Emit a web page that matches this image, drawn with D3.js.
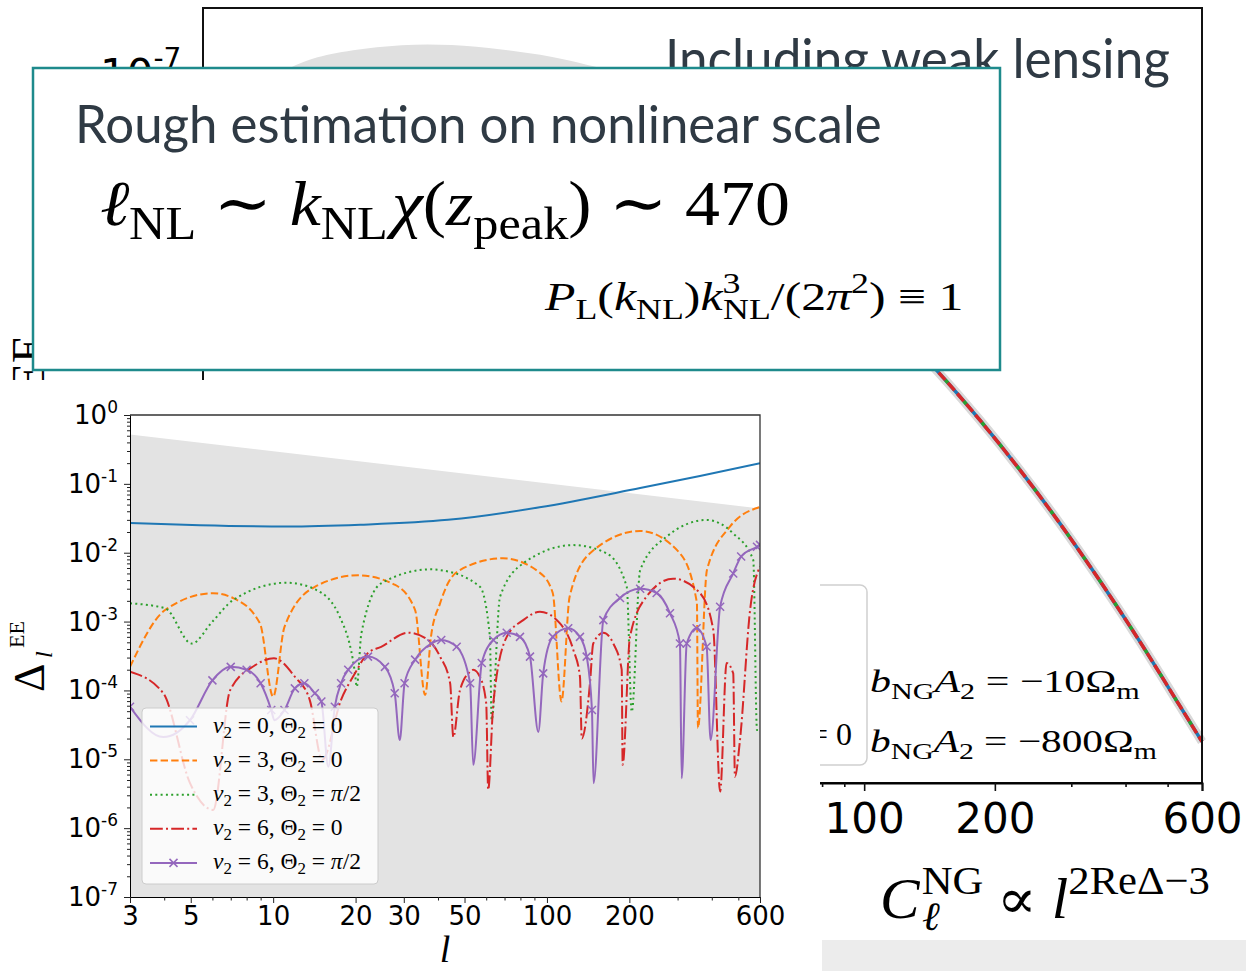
<!DOCTYPE html>
<html>
<head>
<meta charset="utf-8">
<script src="https://cdn.jsdelivr.net/npm/d3@7"></script>
<style>
body { margin: 0; background: #fff; }
svg { display: block; }
</style>
</head>
<body>
<svg id="canvas" width="1246" height="971"></svg>
<script>

//****************************************************************************************************************************//
// Data

// background chart : C_l^EE including weak lensing
var bgBandTop = [[4.7,1.1e-7],[5.3,1.32e-7],[6.6,1.51e-7],[8.6,1.66e-7],[11.2,1.66e-7],[14.6,1.53e-7],[19,1.37e-7],[24.7,1.12e-7]];
var bgCurve = [[121,1.46e-9],[148,7.57e-10],[184.8,3.42e-10],[228.4,1.51e-10],[282.2,6.28e-11],[348.7,2.45e-11],[430.9,9.04e-12],[532.6,3.14e-12],[600,1.73e-12]];
var bgMajorTicks = [3,5,10,20,30,50,100,200,600];

// inset : Delta_l^EE
var grayUpper = [[3,0.52],[30,0.178],[600,0.044]];

var nu0theta0 = [[3,0.027],[5.4,0.025],[11.3,0.024],[20.8,0.0255],[43.5,0.030],[94,0.0457],[219,0.087],[362,0.13],[600,0.2]];

var nu3theta0 = [[3,2.2e-4],[4.03,1.47e-3],[6.03,2.58e-3],[7.13,2.2e-3],[8.95,9.4e-4],[10,8.1e-5],[11,8.4e-4],[14.2,3.2e-3],
	[20.4,4.7e-3],[27.9,3.4e-3],[33,1.47e-3],[35.9,8.6e-5],[37.7,6e-4],[40.7,1.84e-3],[43.5,3.6e-3],[48.1,5.6e-3],[69,8.3e-3],
	[94.3,5.1e-3],[105,2.6e-3],[113,6.9e-5],[121,2.3e-3],[144,9.9e-3],[219,0.0207],[306,9.8e-3],[353,1.86e-3],[356,2.85e-5],
	[384,5.6e-3],[466,0.0239],[600,0.046]];

var nu3thetaPi2 = [[3,1.84e-3],[4.03,1.56e-3],[5.04,4.8e-4],[6,1.0e-3],[7.15,2.06e-3],[11.2,3.67e-3],[14.4,2.87e-3],[17.5,1.18e-3],
	[19.9,1.77e-4],[20.2,1.13e-4],[21,6.76e-4],[24.8,3.6e-3],[37.8,5.74e-3],[40.7,5.6e-3],[56.9,3.2e-3],[61.9,6.0e-4],[62.8,3.7e-5],
	[67.4,2.3e-3],[81.9,7.0e-3],[124.8,0.0129],[165,9.8e-3],[195.6,3.2e-3],[204,4.9e-5],[219,5.6e-3],[273.6,0.0171],[383,0.0299],
	[479,0.0191],[567,7.8e-3],[585,2.66e-5],[592,2.66e-5]];

var nu6theta0 = [[3,1.87e-4],[3.97,9.1e-5],[4.97,4.5e-6],[6.04,1.84e-6],[6.96,1.0e-4],[8.56,2.3e-4],[10.07,2.93e-4],[12,1.58e-4],
	[13.6,7.3e-5],[15.1,9.8e-6],[17.7,7.3e-5],[19.9,1.77e-4],[22.2,3.5e-4],[24.8,4.3e-4],[31.1,6.9e-4],[36.8,5.4e-4],[40.7,3.1e-4],
	[44.3,1.27e-4],[45.5,2.1e-5],[48.1,1.0e-4],[52.4,1.87e-4],[53.8,2.0e-4],[56.9,1.58e-4],[60,6.5e-5],[61,3.6e-6],[63.7,6.5e-5],
	[71.3,6.0e-4],[81.9,1.05e-3],[94.3,1.39e-3],[111.6,9.4e-4],[124.8,3.9e-4],[132,1.58e-4],[134,2.0e-5],[143.6,1.27e-4],
	[147.6,4.8e-4],[160.7,6.9e-4],[174.7,4.8e-4],[187.5,2.0e-4],[189,8.3e-6],[201,6.0e-4],[231,2.3e-3],[289,4.2e-3],[362,2.6e-3],
	[405,7.6e-4],[429,3.4e-6],[453,2.5e-4],[479,1.77e-4],[486,5.6e-6],[507,1.9e-5],[552,1.47e-3],[600,6.3e-3]];

var nu6thetaPi2 = [[3,5.8e-5],[3.97,2.1e-5],[4.97,3.7e-5],[6,1.4e-4],[7,2.2e-4],[8,2.0e-4],[9,1.27e-4],[9.84,5.2e-5],[10.1,3.7e-5],
	[11,5.2e-5],[12,1.07e-4],[13,1.27e-4],[14.2,9.1e-5],[15,6.9e-5],[15.9,7.8e-6],[16.8,5.8e-5],[17.7,1.27e-4],[18.8,2.0e-4],
	[22.2,3.1e-4],[25.6,2.2e-4],[27.8,9.1e-5],[29,1.9e-5],[30.2,1.27e-4],[33,2.8e-4],[37.8,4.8e-4],[41.1,5.4e-4],[46.8,4.3e-4],
	[52.4,1.27e-4],[53.8,8.3e-6],[57.8,2.5e-4],[63.7,5.4e-4],[71.3,6.9e-4],[79.7,6.0e-4],[86.7,3.1e-4],[93,2.5e-5],[96.9,1.77e-4],
	[105,6.0e-4],[119.6,8.0e-4],[132,6.0e-4],[139.7,3.1e-4],[146,5.2e-5],[148,4.5e-6],[160.7,1.05e-3],[184.8,2.2e-3],[219,3.0e-3],
	[251.6,2.6e-3],[281.5,1.32e-3],[306,4.8e-4],[310.5,5.3e-6],[324,4.8e-4],[352,8.0e-4],[383,4.3e-4],[396,1.9e-5],[429,1.64e-3],
	[479,5.0e-3],[512,8.8e-3],[585,0.0122],[600,0.013]];

var insetXTicks = [3,5,10,20,30,50,100,200,600];
var insetYExps = [0,-1,-2,-3,-4,-5,-6,-7];

var seriesList = [
	{ data : nu0theta0,   color : "#1f77b4", dash : null },
	{ data : nu3theta0,   color : "#ff7f0e", dash : "7.4,3.2" },
	{ data : nu3thetaPi2, color : "#2ca02c", dash : "2,3.3" },
	{ data : nu6theta0,   color : "#d62728", dash : "12.8,3.2,2,3.2" },
	{ data : nu6thetaPi2, color : "#9467bd", dash : null }
];

var legendLabels = [
	[["ν",1],["2","sub"],[" = 0, Θ"],["2","sub"],[" = 0"]],
	[["ν",1],["2","sub"],[" = 3, Θ"],["2","sub"],[" = 0"]],
	[["ν",1],["2","sub"],[" = 3, Θ"],["2","sub"],[" = "],["π",1],["/2"]],
	[["ν",1],["2","sub"],[" = 6, Θ"],["2","sub"],[" = 0"]],
	[["ν",1],["2","sub"],[" = 6, Θ"],["2","sub"],[" = "],["π",1],["/2"]]
];

var canvas = d3.select("#canvas");
var serif = "'Liberation Serif','DejaVu Serif',serif";
var sans = "'DejaVu Sans',sans-serif";
var slideFont = "Lato,'Open Sans',sans-serif";
var slideInk = "#2f3a44";

//****************************************************************************************************************************//
// Helpers

function mathText(parent, x, y, size, parts){
	var t = parent.append("text")
				.attr("x", x)
				.attr("y", y)
				.attr("font-family", serif)
				.attr("font-size", size)
				.attr("fill", "#000");
	var shift = 0;
	parts.forEach(function(p){
		var kind = p[1];
		var small = kind == "sub" || kind == "sup" || kind == "isub" || kind == "isup";
		var target = kind == "sub" || kind == "isub" ? size*0.22 : (kind == "sup" || kind == "isup" ? -size*0.42 : 0);
		var s = t.append("tspan").text(p[0]).attr("dy", target - shift);
		shift = target;
		if (small) s.attr("font-size", size*0.72);
		if (kind === 1 || kind == "isub" || kind == "isup") s.attr("font-style", "italic");
		if (p[2]) s.attr("dx", p[2]);
	});
	return t;
}

function fitWidth(t, x0, w){
	var bb = t.node().getBBox();
	var k = w / bb.width;
	t.attr("transform", "translate(" + x0 + ",0) scale(" + k + ",1) translate(" + (-x0) + ",0)");
}

function minorTicks(lo, hi){
	var out = [];
	for (var e = -13; e <= 3; e++){
		for (var m = 1; m < 10; m++){
			var v = m * Math.pow(10, e);
			if (v >= lo*0.999 && v <= hi*1.001) out.push(v);
		}
	}
	return out;
}

//****************************************************************************************************************************//
// Background chart

var bgX = d3.scaleLog().domain([3,600]).range([203,1202]);
var bgY = d3.scaleLog().domain([1e-12,1e-7]).range([775,75]);
var bg = canvas.append("g");

bg.append("path")
	.datum(bgBandTop)
	.attr("d", d3.area().x(function(d){ return bgX(d[0]); }).y0(bgY(2e-9)).y1(function(d){ return bgY(d[1]); }).curve(d3.curveBasis))
	.attr("fill", "#e0e0e0");

var bgLine = d3.line().x(function(d){ return bgX(d[0]); }).y(function(d){ return bgY(d[1]); }).curve(d3.curveMonotoneX);

bg.append("path").datum(bgCurve).attr("d", bgLine).attr("fill", "none").attr("stroke", "#d9d9d9").attr("stroke-width", 9);
bg.append("path").datum(bgCurve).attr("d", bgLine).attr("fill", "none").attr("stroke", "#1f77b4").attr("stroke-width", 3.5);
bg.append("path").datum(bgCurve).attr("d", bgLine).attr("fill", "none").attr("stroke", "#2ca02c").attr("stroke-width", 3.5)
	.attr("stroke-dasharray", "4,24").attr("stroke-dashoffset", -10);
bg.append("path").datum(bgCurve).attr("d", bgLine).attr("fill", "none").attr("stroke", "#d62728").attr("stroke-width", 3.5)
	.attr("stroke-dasharray", "10,4");

bg.append("rect")
	.attr("x", 203).attr("y", 8).attr("width", 999).attr("height", 775)
	.attr("fill", "none").attr("stroke", "#111").attr("stroke-width", 2);

var bgAxis = bg.append("g").attr("transform", "translate(0,783)")
	.call(d3.axisBottom(bgX).tickValues(bgMajorTicks).tickFormat(d3.format("d")).tickSize(8).tickPadding(12));
bg.append("g").attr("transform", "translate(0,783)")
	.call(d3.axisBottom(bgX).tickValues(minorTicks(3,600).filter(function(v){ return bgMajorTicks.indexOf(v) < 0; })).tickFormat("").tickSize(4))
	.call(function(g){ g.select(".domain").remove(); });
bgAxis.select(".domain").attr("stroke-width", 2);
bg.selectAll(".tick line").attr("stroke", "#111").attr("stroke-width", 1.6);
bgAxis.selectAll("text").attr("font-family", sans).attr("font-size", 42).attr("fill", "#000");

// y axis pieces still peeking out
var bgYLab = bg.append("text").attr("x", 100).attr("y", 89).attr("font-family", sans).attr("font-size", 42);
bgYLab.append("tspan").text("10");
bgYLab.append("tspan").attr("dy", -21).attr("font-size", 28).text("-7");
bg.append("text")
	.attr("transform", "translate(44,391) rotate(-90)")
	.attr("font-family", serif).attr("font-size", 46).text("EE");

// legend box and annotations
bg.append("rect")
	.attr("x", 600).attr("y", 585).attr("width", 267).attr("height", 180).attr("rx", 7)
	.attr("fill", "#fff").attr("stroke", "#d0d0d0").attr("stroke-width", 1.5);
mathText(bg, 852, 745, 32, [["Θ"],["2","sub"],[" = 0"]]).attr("text-anchor", "end");
fitWidth(mathText(bg, 870, 692, 32, [["b",1],["NG","sub"],["A",1],["2","sub"],[" = −10Ω"],["m","sub"]]), 870, 270);
fitWidth(mathText(bg, 870, 752, 32, [["b",1],["NG","sub"],["A",1],["2","sub"],[" = −800Ω"],["m","sub"]]), 870, 287);

fitWidth(bg.append("text")
	.attr("x", 665).attr("y", 78)
	.attr("font-family", slideFont).attr("font-size", 54).attr("fill", slideInk)
	.text("Including weak lensing"), 665, 505);

//****************************************************************************************************************************//
// Inset chart

var inset = canvas.append("g");
inset.append("rect").attr("x", 0).attr("y", 380).attr("width", 820).attr("height", 591).attr("fill", "#fff");

var inX = d3.scaleLog().domain([3,600]).range([130,760]);
var inY = d3.scaleLog().domain([1e-7,1]).range([897,415]);

inset.append("clipPath").attr("id", "insetClip")
	.append("rect").attr("x", 130).attr("y", 415).attr("width", 630).attr("height", 482);

var plot = inset.append("g").attr("clip-path", "url(#insetClip)");

plot.append("path")
	.datum(grayUpper)
	.attr("d", d3.area().x(function(d){ return inX(d[0]); }).y0(inY(1e-7)).y1(function(d){ return inY(d[1]); }))
	.attr("fill", "#e3e3e3");

var inLine = d3.line().x(function(d){ return inX(d[0]); }).y(function(d){ return inY(d[1]); }).curve(d3.curveMonotoneX);

seriesList.forEach(function(s){
	plot.append("path")
		.datum(s.data)
		.attr("d", inLine)
		.attr("fill", "none")
		.attr("stroke", s.color)
		.attr("stroke-width", 2)
		.attr("stroke-dasharray", s.dash);
});

// x markers on the last series, skipping the sharp dips
var xMark = "M-4,-4L4,4M-4,4L4,-4";
plot.selectAll(".mk")
	.data(nu6thetaPi2.filter(function(d, i, a){
		return !(i > 0 && i < a.length-1 && d[1] < a[i-1][1] && d[1] < a[i+1][1]);
	}))
	.enter().append("path")
	.attr("d", xMark)
	.attr("transform", function(d){ return "translate(" + inX(d[0]) + "," + inY(d[1]) + ")"; })
	.attr("stroke", "#9467bd").attr("stroke-width", 1.5).attr("fill", "none");

// axes
var yMajor = insetYExps.map(function(e){ return Math.pow(10, e); });
inset.append("g").attr("transform", "translate(130,0)")
	.call(d3.axisLeft(inY).tickValues(yMajor).tickFormat("").tickSize(6));
inset.append("g").attr("transform", "translate(130,0)")
	.call(d3.axisLeft(inY).tickValues(minorTicks(1e-7,1).filter(function(v){ return yMajor.indexOf(v) < 0; })).tickFormat("").tickSize(3))
	.call(function(g){ g.select(".domain").remove(); });

var xAx = inset.append("g").attr("transform", "translate(0,897)")
	.call(d3.axisBottom(inX).tickValues(insetXTicks).tickFormat(d3.format("d")).tickSize(6).tickPadding(4));
inset.append("g").attr("transform", "translate(0,897)")
	.call(d3.axisBottom(inX).tickValues(minorTicks(3,600).filter(function(v){ return insetXTicks.indexOf(v) < 0; })).tickFormat("").tickSize(3.5))
	.call(function(g){ g.select(".domain").remove(); });
xAx.selectAll("text").attr("font-family", sans).attr("font-size", 26).attr("fill", "#000");
inset.selectAll(".tick line").attr("stroke", "#222");

insetYExps.forEach(function(e){
	var t = inset.append("text")
				.attr("x", 118)
				.attr("y", inY(Math.pow(10, e)) + 9)
				.attr("text-anchor", "end")
				.attr("font-family", sans)
				.attr("font-size", 26);
	t.append("tspan").text("10");
	t.append("tspan").attr("dy", -11).attr("font-size", 17).text(e === 0 ? "0" : "-" + (-e));
});

inset.append("path")
	.attr("d", "M130,415H760V897")
	.attr("fill", "none").attr("stroke", "#333").attr("stroke-width", 1.3);

// axis labels
var yl = inset.append("g").attr("transform", "translate(44,692) rotate(-90)");
yl.append("text").attr("x", 0).attr("y", 0).attr("font-family", serif).attr("font-size", 44).text("Δ");
yl.append("text").attr("x", 34).attr("y", 8).attr("font-family", serif).attr("font-style", "italic").attr("font-size", 24).text("l");
yl.append("text").attr("x", 44).attr("y", -20).attr("font-family", serif).attr("font-size", 22).text("EE");

inset.append("text")
	.attr("x", 445).attr("y", 962)
	.attr("text-anchor", "middle")
	.attr("font-family", serif).attr("font-style", "italic").attr("font-size", 38)
	.text("l");

// legend
var legend = inset.append("g");
legend.append("rect")
	.attr("x", 142).attr("y", 708).attr("width", 236).attr("height", 176).attr("rx", 4)
	.attr("fill", "#fff").attr("fill-opacity", 0.8).attr("stroke", "#cccccc");

seriesList.forEach(function(s, i){
	var cy = 726.5 + i*34.1;
	legend.append("line")
		.attr("x1", 150).attr("x2", 197).attr("y1", cy).attr("y2", cy)
		.attr("stroke", s.color).attr("stroke-width", 2).attr("stroke-dasharray", s.dash);
	if (s.data === nu6thetaPi2){
		legend.append("path").attr("d", xMark).attr("transform", "translate(173.5," + cy + ")")
			.attr("stroke", s.color).attr("stroke-width", 1.5);
	}
	mathText(legend, 213, cy + 6, 23.5, legendLabels[i]);
});

//****************************************************************************************************************************//
// Teal note box

var note = canvas.append("g");
note.append("rect")
	.attr("x", 33).attr("y", 68).attr("width", 967).attr("height", 302)
	.attr("fill", "#fff").attr("stroke", "#1e8a8c").attr("stroke-width", 2.5);

fitWidth(note.append("text")
	.attr("x", 75).attr("y", 143)
	.attr("font-family", slideFont).attr("font-size", 52).attr("fill", slideInk)
	.text("Rough estimation on nonlinear scale"), 75, 807);

fitWidth(mathText(note, 100, 225, 64, [["ℓ",1],["NL","sub"],[" ∼ "],["k",1],["NL","sub"],["χ",1,4],["("],["z",1],["peak","sub"],[")"],[" ∼ 470"]]), 100, 690);

fitWidth(mathText(note, 545, 310, 40, [["P",1],["L","sub"],["("],["k",1],["NL","sub"],[")"],["k",1],["3","sup"],["NL","sub",-14],["/(2"],["π",1],["2","sup"],[") ≡ 1"]]), 545, 420);

//****************************************************************************************************************************//
// Bottom right

canvas.append("rect").attr("x", 822).attr("y", 940).attr("width", 424).attr("height", 31).attr("fill", "#ececec");
fitWidth(mathText(canvas, 880, 918, 56, [["C",1],["NG","sup",2],["ℓ","isub",-58],[" ∝ ",0,40],["l",1],["2ReΔ−3","sup"]]), 880, 330);

</script>
</body>
</html>
